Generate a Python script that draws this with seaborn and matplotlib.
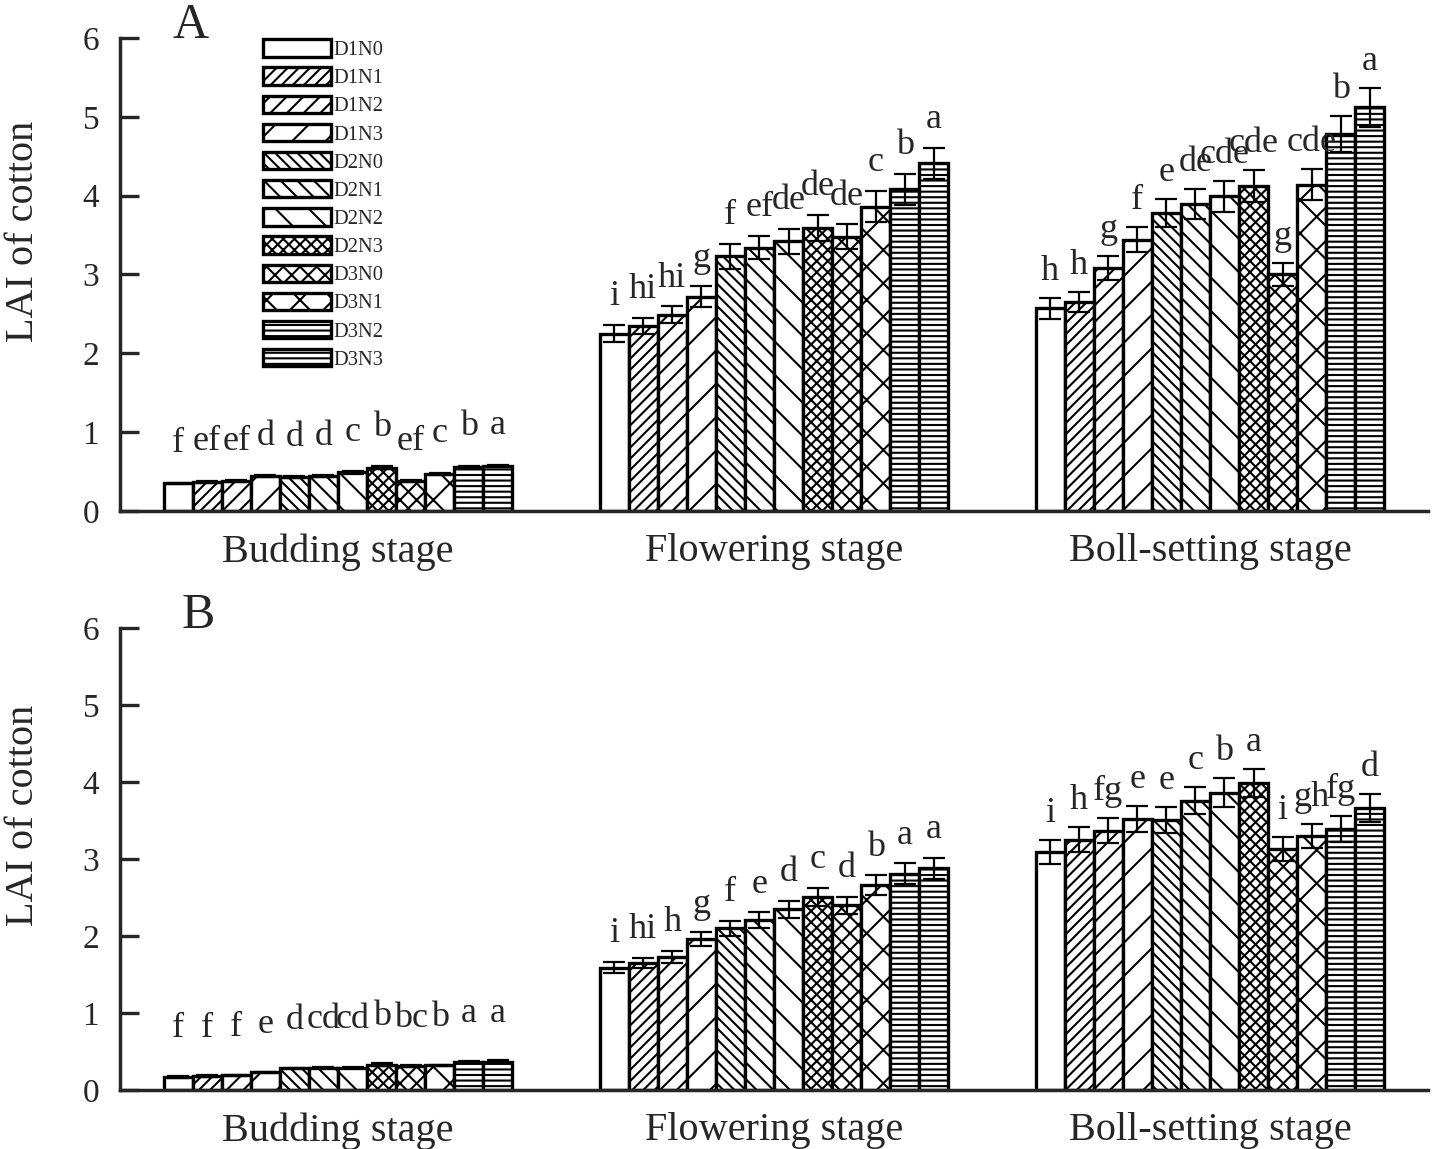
import numpy as np
import pandas as pd
import matplotlib
matplotlib.use("Agg")
import matplotlib.pyplot as plt
import seaborn as sns
from matplotlib.patches import Patch
from matplotlib.container import BarContainer

# ---------------- data ----------------
stages = ["Budding stage", "Flowering stage", "Boll-setting stage"]
treatments = ["D1N0", "D1N1", "D1N2", "D1N3", "D2N0", "D2N1",
              "D2N2", "D2N3", "D3N0", "D3N1", "D3N2", "D3N3"]

# Panel A
a_budding = [0.35, 0.37, 0.38, 0.44, 0.43, 0.44, 0.49, 0.55, 0.38, 0.47, 0.56, 0.57]
a_flowering = [2.25, 2.35, 2.49, 2.72, 3.23, 3.34, 3.42, 3.59, 3.48, 3.86, 4.08, 4.41]
a_boll = [2.57, 2.65, 3.08, 3.44, 3.78, 3.89, 3.99, 4.12, 3.00, 4.14, 4.78, 5.12]
a_budding_err = [0.01, 0.01, 0.01, 0.015, 0.01, 0.01, 0.015, 0.015, 0.01, 0.015, 0.015, 0.015]
a_flowering_err = [0.11, 0.10, 0.11, 0.13, 0.16, 0.15, 0.16, 0.17, 0.16, 0.20, 0.20, 0.20]
a_boll_err = [0.13, 0.13, 0.15, 0.16, 0.18, 0.19, 0.20, 0.20, 0.15, 0.20, 0.23, 0.25]
a_budding_lab = ["f", "ef", "ef", "d", "d", "d", "c", "b", "ef", "c", "b", "a"]
a_flowering_lab = ["i", "hi", "hi", "g", "f", "ef", "de", "de", "de", "c", "b", "a"]
a_boll_lab = ["h", "h", "g", "f", "e", "de", "cde", "cde", "g", "cde", "b", "a"]

# Panel B
b_budding = [0.17, 0.18, 0.19, 0.23, 0.28, 0.29, 0.29, 0.33, 0.31, 0.32, 0.36, 0.37]
b_flowering = [1.59, 1.65, 1.73, 1.96, 2.10, 2.21, 2.35, 2.51, 2.40, 2.66, 2.81, 2.88]
b_boll = [3.09, 3.25, 3.37, 3.52, 3.51, 3.76, 3.86, 3.99, 3.13, 3.30, 3.39, 3.66]
b_budding_err = [0.01, 0.01, 0.01, 0.01, 0.01, 0.01, 0.01, 0.015, 0.01, 0.01, 0.015, 0.015]
b_flowering_err = [0.075, 0.07, 0.08, 0.09, 0.10, 0.10, 0.11, 0.12, 0.11, 0.13, 0.135, 0.14]
b_boll_err = [0.16, 0.16, 0.16, 0.17, 0.17, 0.18, 0.19, 0.18, 0.16, 0.16, 0.17, 0.18]
b_budding_lab = ["f", "f", "f", "e", "d", "cd", "cd", "b", "bc", "b", "a", "a"]
b_flowering_lab = ["i", "hi", "h", "g", "f", "e", "d", "c", "d", "b", "a", "a"]
b_boll_lab = ["i", "h", "fg", "e", "e", "c", "b", "a", "i", "gh", "fg", "d"]

# ---------------- style ----------------
hatches = ["", "//////", "////", "//", "\\" * 6, "\\" * 4, "\\" * 2,
           "xxxxxx", "xxxx", "xx", "------", "------"]
label_pad_pts = {"A": [11, 7, 6.5], "B": [14, 7, 6.5]}

sns.set_style("ticks")
plt.rcParams["font.family"] = ["Liberation Serif", "DejaVu Serif"]
plt.rcParams["hatch.linewidth"] = 0.75
plt.rcParams["hatch.color"] = "black"
plt.rcParams["axes.linewidth"] = 1.25

fig = plt.figure(figsize=(7.185, 5.745), dpi=200)
axA = fig.add_axes([0.0835, 0.5553, 0.9102, 0.4117])
axB = fig.add_axes([0.0835, 0.0513, 0.9102, 0.4021])


def make_df(vals_by_stage):
    rows = []
    for st, vals in zip(stages, vals_by_stage):
        for t, v in zip(treatments, vals):
            rows.append({"stage": st, "treatment": t, "LAI": v})
    return pd.DataFrame(rows)


def draw_panel(ax, means, errs, labs, letter, pads):
    df = make_df(means)
    sns.barplot(data=df, x="stage", y="LAI", hue="treatment",
                order=stages, hue_order=treatments,
                palette={t: "white" for t in treatments},
                errorbar=None, width=0.8, gap=0, legend=False,
                edgecolor="black", linewidth=1.2, saturation=1, ax=ax)
    bar_conts = [c for c in ax.containers if isinstance(c, BarContainer)]
    for i, cont in enumerate(bar_conts):
        for j, bar in enumerate(list(cont)):
            bar.set_hatch(hatches[i])
            bar.set_facecolor("white")
            bar.set_edgecolor("black")
            bar.set_linewidth(1.2)
            xc = bar.get_x() + bar.get_width() / 2
            m = means[j][i]
            e = errs[j][i]
            ax.errorbar([xc], [m], yerr=[e], fmt="none", ecolor="black",
                        elinewidth=0.8, capsize=3.8, capthick=0.8, zorder=5)
            ax.annotate(labs[j][i], (xc, m + e), xytext=(0, pads[j]),
                        textcoords="offset points", ha="center", va="baseline",
                        fontsize=13, zorder=6)
    ax.set_xlim(-0.5, 2.5)
    ax.set_ylim(0, 6)
    ax.set_yticks([0, 1, 2, 3, 4, 5, 6])
    ax.tick_params(axis="y", direction="in", length=6.8, width=1.2,
                   labelsize=12, pad=7.5)
    ax.tick_params(axis="x", length=0, labelsize=14.5, pad=8)
    ax.set_xlabel("")
    ax.set_ylabel("LAI of cotton", fontsize=14.5)
    sns.despine(ax=ax)
    ax.text(0.054 if letter == "A" else 0.06, 1.0, letter, transform=ax.transAxes,
            fontsize=18, ha="center", va="baseline")


draw_panel(axA, [a_budding, a_flowering, a_boll],
           [a_budding_err, a_flowering_err, a_boll_err],
           [a_budding_lab, a_flowering_lab, a_boll_lab], "A", label_pad_pts["A"])
draw_panel(axB, [b_budding, b_flowering, b_boll],
           [b_budding_err, b_flowering_err, b_boll_err],
           [b_budding_lab, b_flowering_lab, b_boll_lab], "B", label_pad_pts["B"])

axA.yaxis.set_label_coords(-0.06, 0.592)
axB.yaxis.set_label_coords(-0.06, 0.595)

handles = [Patch(facecolor="white", edgecolor="black", linewidth=1.2, hatch=h)
           for h in hatches]
axA.legend(handles, treatments, loc="upper left", bbox_to_anchor=(0.1093, 0.997),
           frameon=False, fontsize=7.4, handlelength=3.3, handleheight=0.92,
           labelspacing=0.36, handletextpad=0.15, borderpad=0, borderaxespad=0)

fig.savefig("out.png", dpi=200)
